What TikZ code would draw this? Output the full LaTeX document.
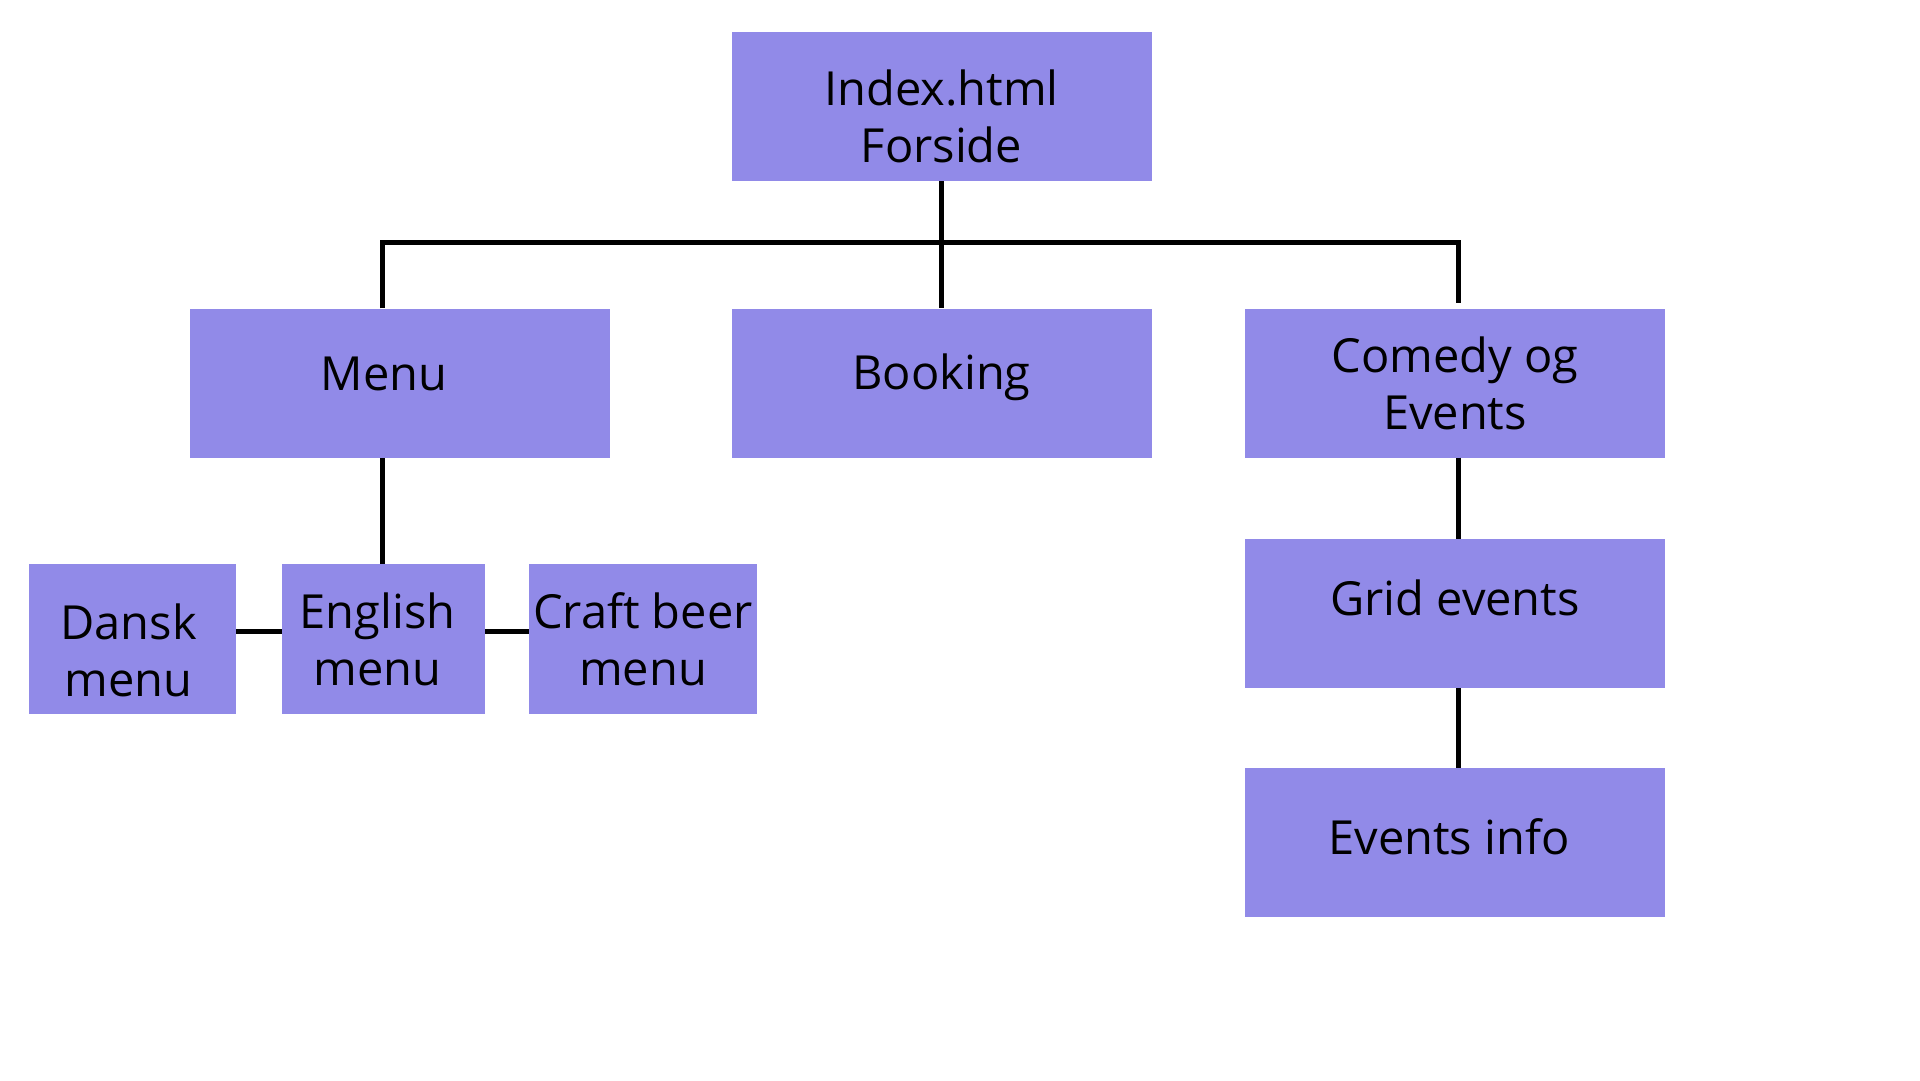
\documentclass[tikz,border=0pt]{standalone}
\usepackage{fontspec}
\setmainfont{Open Sans}
\definecolor{boxfill}{RGB}{145,138,232}
\begin{document}
\begin{tikzpicture}[x=1pt,y=-1pt,
  box/.style={fill=boxfill,inner sep=0pt,minimum width=420pt,minimum height=149pt},
  small/.style={box,minimum height=150pt},
  txt/.style={inner sep=0pt,align=center,font=\fontsize{47}{57}\selectfont},
  link/.style={line width=5pt}]
\useasboundingbox[fill=white] (0,0) rectangle (1920,1080);
\node[box,label={[txt,yshift=-10pt]center:Index.html\\Forside}] (index) at (941.5,106.5) {};
\node[box,label={[txt,xshift=-16pt,yshift=9pt]center:Menu}] (menu) at (400,383) {};
\node[box,label={[txt,yshift=6pt]center:Booking}] (booking) at (941.5,383) {};
\node[box,label={[txt]center:Comedy og\\Events}] (comedy) at (1455,383) {};
\node[box,label={[txt,yshift=16pt]center:Grid events}] (grid) at (1455,613.5) {};
\node[box,label={[txt,xshift=-6pt,yshift=6pt]center:Events info}] (info) at (1455,842.5) {};
\node[small,minimum width=207pt,label={[txt,xshift=-4pt,yshift=-11pt]center:Dansk\\menu}] (dansk) at (132.5,639) {};
\node[small,minimum width=203pt,label={[txt,xshift=-6pt]center:English\\menu}] (english) at (383.5,639) {};
\node[small,minimum width=228pt,label={[txt]center:Craft beer\\menu}] (craft) at (643,639) {};
\coordinate (busL) at (382,242);
\coordinate (busR) at (1458,242);
\draw[link] (index.south) -- (booking.north);
\draw[link] (menu.north -| busL) -- (busL) -- (busR) -- ([yshift=5pt]comedy.north -| busR);
\draw[link] (english.north -| busL) -- (menu.south -| busL);
\draw[link] ([yshift=8pt]dansk.east) -- ([yshift=8pt]english.west);
\draw[link] ([yshift=8pt]english.east) -- ([yshift=8pt]craft.west);
\draw[link] (comedy.south -| busR) -- (grid.north -| busR);
\draw[link] (grid.south -| busR) -- (info.north -| busR);
\end{tikzpicture}
\end{document}
